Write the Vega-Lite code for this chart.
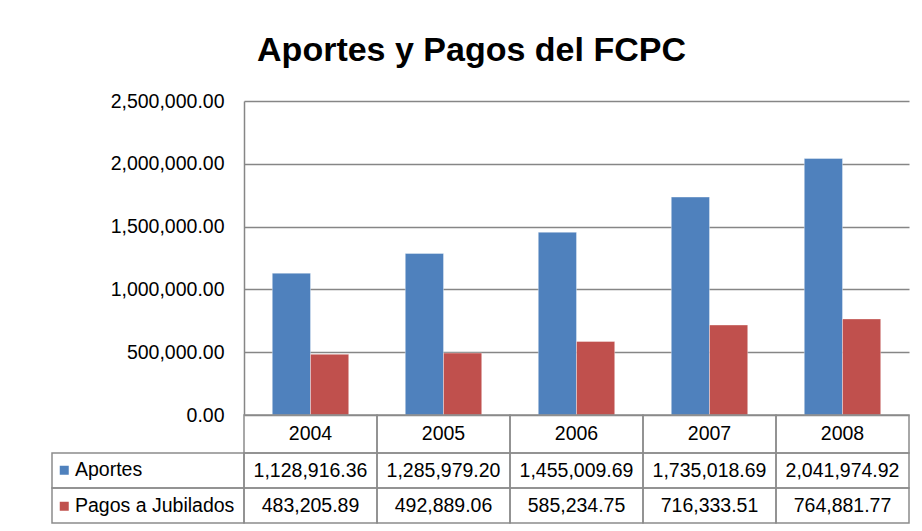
{
  "$schema": "https://vega.github.io/schema/vega-lite/v6.json",
  "autosize": {"type": "pad"},
  "padding": {"left": 51, "top": 34, "right": 12, "bottom": 8},
  "background": "white",
  "title": {"text": "Aportes y Pagos del FCPC", "font": "Liberation Sans", "fontSize": 34, "fontWeight": "bold", "color": "black", "anchor": "middle", "offset": 23, "dx": -9},
  "datasets": {
    "main": [
      {"year": "2004", "serie": "Aportes", "value": 1128916.36},
      {"year": "2005", "serie": "Aportes", "value": 1285979.20},
      {"year": "2006", "serie": "Aportes", "value": 1455009.69},
      {"year": "2007", "serie": "Aportes", "value": 1735018.69},
      {"year": "2008", "serie": "Aportes", "value": 2041974.92},
      {"year": "2004", "serie": "Pagos a Jubilados", "value": 483205.89},
      {"year": "2005", "serie": "Pagos a Jubilados", "value": 492889.06},
      {"year": "2006", "serie": "Pagos a Jubilados", "value": 585234.75},
      {"year": "2007", "serie": "Pagos a Jubilados", "value": 716333.51},
      {"year": "2008", "serie": "Pagos a Jubilados", "value": 764881.77}
    ]
  },
  "columns": 2,
  "spacing": 0,
  "bounds": "flush",
  "config": {"view": {"stroke": null}, "font": "Liberation Sans"},
  "concat": [
    {
      "width": 192, "height": 314,
      "data": {"values": [{"k": 1}]},
      "mark": {"type": "text", "text": ""},
      "encoding": {}
    },
    {
      "width": 665, "height": 314,
      "data": {"name": "main"},
      "mark": {"type": "bar", "stroke": "#ffffff", "strokeWidth": 0.6, "strokeOpacity": 0.6},
      "encoding": {
        "x": {"field": "year", "type": "ordinal", "scale": {"paddingInner": 0, "paddingOuter": 0}, "axis": null},
        "xOffset": {"field": "serie", "type": "nominal", "sort": ["Aportes", "Pagos a Jubilados"], "scale": {"paddingInner": 0, "paddingOuter": 0.74}},
        "y": {"field": "value", "type": "quantitative", "scale": {"domain": [0, 2500000], "nice": false},
          "axis": {"title": null, "values": [0, 500000, 1000000, 1500000, 2000000, 2500000], "format": ",.2f", "ticks": false, "labelPadding": 20, "labelFont": "Liberation Sans", "labelFontSize": 19.5, "labelColor": "#000000", "domainColor": "#868686", "domainWidth": 1.5, "grid": true, "gridColor": "#868686", "gridWidth": 1.3}},
        "color": {"field": "serie", "type": "nominal", "sort": ["Aportes", "Pagos a Jubilados"], "scale": {"range": ["#4f81bd", "#c0504d"]},
          "legend": {"orient": "none", "legendX": 2.5, "legendY": 359.5, "title": null, "symbolType": "square", "symbolSize": 81, "symbolStrokeWidth": 0, "labelFont": "Liberation Sans", "labelFontSize": 19.5, "labelColor": "#000000", "rowPadding": 15, "labelOffset": 1, "padding": 0}}
      }
    },
    {
      "width": 192, "height": 38,
      "data": {"values": [{"k": 1}]},
      "mark": {"type": "text", "text": ""},
      "encoding": {}
    },
    {
      "width": 665, "height": 38,
      "data": {"name": "main"},
      "transform": [{"filter": "datum.serie == 'Aportes'"}],
      "encoding": {
        "x": {"field": "year", "type": "ordinal", "scale": {"paddingInner": 0, "paddingOuter": 0}, "axis": null}
      },
      "layer": [
        {"mark": {"type": "rect", "filled": false, "stroke": "#8c8c8c", "strokeWidth": 1.5}},
        {"mark": {"type": "text", "font": "Liberation Sans", "fontSize": 19.5, "color": "#000000"}, "encoding": {"text": {"field": "year"}}}
      ]
    },
    {
      "width": 192, "height": 70,
      "data": {"name": "main"},
      "transform": [{"filter": "datum.year == '2004'"}],
      "mark": {"type": "rect", "filled": false, "stroke": "#8c8c8c", "strokeWidth": 1.5},
      "encoding": {
        "y": {"field": "serie", "type": "nominal", "sort": ["Aportes", "Pagos a Jubilados"], "scale": {"paddingInner": 0, "paddingOuter": 0}, "axis": null}
      }
    },
    {
      "width": 665, "height": 70,
      "data": {"name": "main"},
      "encoding": {
        "x": {"field": "year", "type": "ordinal", "scale": {"paddingInner": 0, "paddingOuter": 0}, "axis": null},
        "y": {"field": "serie", "type": "nominal", "sort": ["Aportes", "Pagos a Jubilados"], "scale": {"paddingInner": 0, "paddingOuter": 0}, "axis": null}
      },
      "layer": [
        {"mark": {"type": "rect", "filled": false, "stroke": "#8c8c8c", "strokeWidth": 1.5}},
        {"mark": {"type": "text", "font": "Liberation Sans", "fontSize": 19.5, "color": "#000000"}, "encoding": {"text": {"field": "value", "type": "quantitative", "format": ",.2f"}}}
      ]
    }
  ]
}
